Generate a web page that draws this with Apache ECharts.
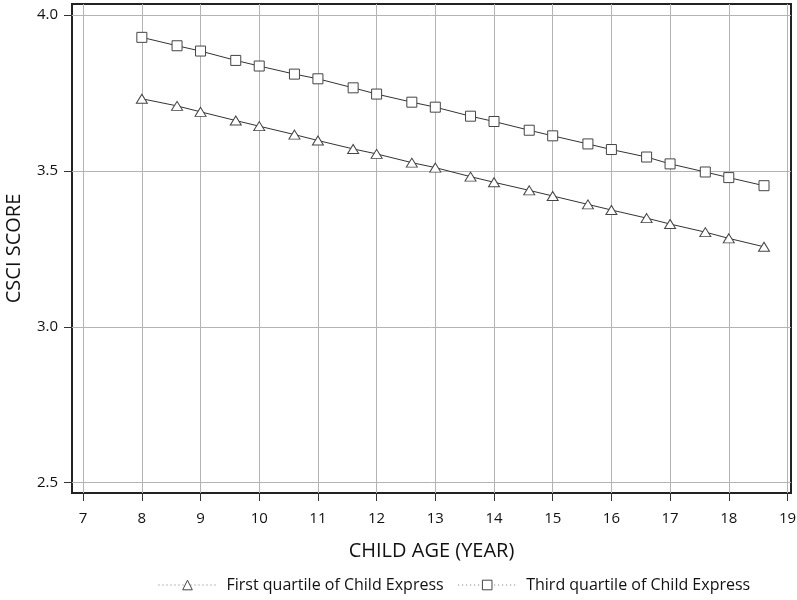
<!DOCTYPE html>
<html>
<head>
<meta charset="utf-8">
<script src="https://cdn.jsdelivr.net/npm/echarts@6/dist/echarts.min.js"></script>
<style>
html,body{margin:0;padding:0;background:#fff;}
#chart{width:797px;height:600px;}
</style>
</head>
<body>
<div id="chart"></div>
<script>
const ages = [8, 8.6, 9, 9.6, 10, 10.6, 11, 11.6, 12, 12.6, 13, 13.6, 14, 14.6, 15, 15.6, 16, 16.6, 17, 17.6, 18, 18.6];
const firstQuartile = [3.732, 3.709, 3.690, 3.662, 3.644, 3.617, 3.598, 3.571, 3.555, 3.527, 3.511, 3.482, 3.464, 3.438, 3.420, 3.393, 3.375, 3.349, 3.330, 3.304, 3.284, 3.257];
const thirdQuartile = [3.929, 3.902, 3.885, 3.855, 3.837, 3.811, 3.796, 3.767, 3.747, 3.721, 3.705, 3.676, 3.659, 3.631, 3.613, 3.587, 3.569, 3.545, 3.523, 3.497, 3.479, 3.453];
const xTicks = [7, 8, 9, 10, 11, 12, 13, 14, 15, 16, 17, 18, 19];
const yTicks = [2.5, 3.0, 3.5, 4.0];
const seriesNames = ['First quartile of Child Express', 'Third quartile of Child Express'];

const FONT = 'Open Sans';
const chart = echarts.init(document.getElementById('chart'), null, {renderer: 'canvas'});
const pairs = (xs, ys) => xs.map((x, i) => [x, ys[i]]);

chart.setOption({
  animation: false,
  backgroundColor: '#fff',
  grid: {
    left: 72, right: 6, top: 4, bottom: 107,
    containLabel: false, outerBoundsMode: 'none',
    show: true, borderColor: '#222', borderWidth: 2, backgroundColor: 'transparent'
  },
  legend: {
    left: 153, bottom: 2,
    itemWidth: 58, itemHeight: 12, itemGap: 14,
    textStyle: {fontFamily: FONT, fontSize: 16, color: '#111', padding: [0, 0, 0, 5]},
    lineStyle: {type: [1, 3], color: '#777', width: 1},
    itemStyle: {borderWidth: 1, borderColor: '#444', color: '#fff'},
    data: seriesNames
  },
  xAxis: {
    type: 'value', min: 6.81, max: 19.06,
    name: 'CHILD AGE (YEAR)', nameLocation: 'middle', nameGap: 48,
    nameTextStyle: {fontFamily: FONT, fontSize: 20, color: '#111'},
    axisLine: {show: false},
    axisTick: {show: true, length: 8, inside: false, lineStyle: {color: '#333'}, customValues: xTicks},
    axisLabel: {fontFamily: FONT, fontSize: 15, color: '#111', margin: 18, customValues: xTicks},
    splitLine: {show: true, lineStyle: {color: '#b3b3b3', width: 1}}
  },
  yAxis: {
    type: 'value', min: 2.467, max: 4.036,
    name: 'CSCI SCORE', nameLocation: 'middle', nameGap: 48, nameRotate: 90,
    nameTextStyle: {fontFamily: FONT, fontSize: 20, color: '#111'},
    axisLine: {show: false},
    axisTick: {show: true, length: 8, lineStyle: {color: '#333'}, customValues: yTicks},
    axisLabel: {fontFamily: FONT, fontSize: 15, color: '#111', margin: 14, customValues: yTicks,
      formatter: v => v.toFixed(1)},
    splitLine: {show: true, lineStyle: {color: '#b3b3b3', width: 1}}
  },
  series: [
    {
      name: seriesNames[0], type: 'line', data: pairs(ages, firstQuartile),
      symbol: 'triangle', symbolSize: [11, 9], showAllSymbol: true,
      lineStyle: {color: '#333', width: 1},
      itemStyle: {color: '#fff', borderColor: '#444', borderWidth: 1}
    },
    {
      name: seriesNames[1], type: 'line', data: pairs(ages, thirdQuartile),
      symbol: 'rect', symbolSize: 10, showAllSymbol: true,
      lineStyle: {color: '#333', width: 1},
      itemStyle: {color: '#fff', borderColor: '#444', borderWidth: 1}
    }
  ]
});
</script>
</body>
</html>
